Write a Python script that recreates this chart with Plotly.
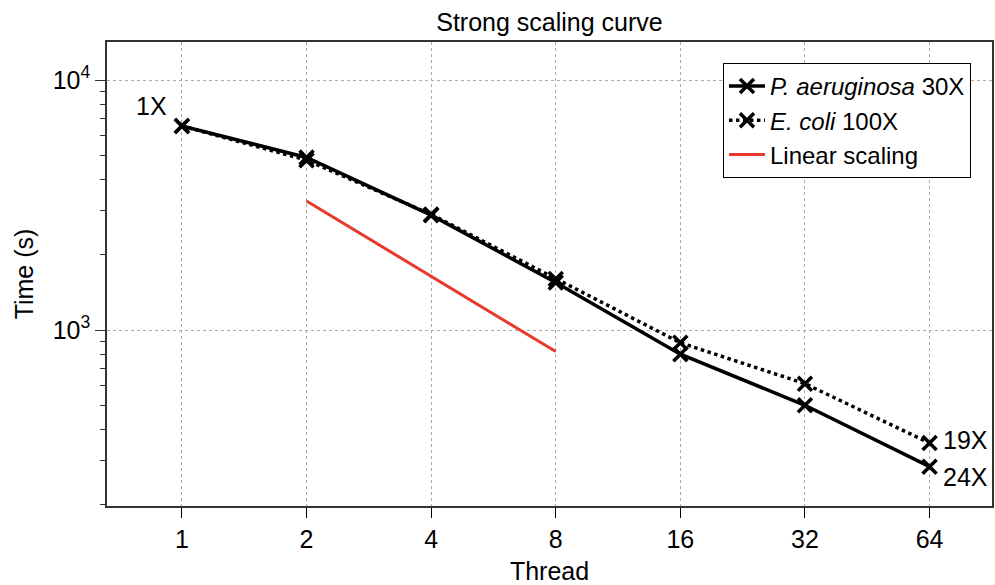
import plotly.graph_objects as go

threads = [1, 2, 4, 8, 16, 32, 64]
pa_time = [6550, 4900, 2880, 1550, 800, 500, 284]
ec_time = [6550, 4780, 2900, 1600, 889, 610, 353]
lin_threads = [2, 8]
lin_time = [3280, 820]
tick_labels = ["1", "2", "4", "8", "16", "32", "64"]

FONT = "Liberation Sans, Arial, Helvetica, sans-serif"
FS = 25

fig = go.Figure()
fig.add_trace(go.Scatter(
    x=threads, y=pa_time, mode="lines+markers",
    name="<i>P. aeruginosa</i> 30X",
    line=dict(color="black", width=3.5),
    marker=dict(symbol="x-thin-open", size=14, line=dict(color="black", width=3.5)),
))
fig.add_trace(go.Scatter(
    x=threads, y=ec_time, mode="lines+markers",
    name="<i>E. coli</i> 100X",
    line=dict(color="black", width=3.5, dash="dot"),
    marker=dict(symbol="x-thin-open", size=14, line=dict(color="black", width=3.5)),
))
fig.add_trace(go.Scatter(
    x=lin_threads, y=lin_time, mode="lines",
    name="Linear scaling",
    line=dict(color="#e8392b", width=3),
))

fig.add_annotation(x=0, y=3.816, xref="x", yref="y", text="1X", showarrow=False,
                   xanchor="right", yanchor="middle", xshift=-13, yshift=20,
                   font=dict(size=FS, color="black", family=FONT))
fig.add_annotation(x=1.806, y=2.548, xref="x", yref="y", text="19X", showarrow=False,
                   xanchor="left", yanchor="middle", xshift=11, yshift=3,
                   font=dict(size=FS, color="black", family=FONT))
fig.add_annotation(x=1.806, y=2.453, xref="x", yref="y", text="24X", showarrow=False,
                   xanchor="left", yanchor="middle", xshift=11, yshift=-10,
                   font=dict(size=FS, color="black", family=FONT))

minor_vals = [200, 300, 400, 500, 600, 700, 800, 900,
              2000, 3000, 4000, 5000, 6000, 7000, 8000, 9000]

fig.update_layout(
    width=995, height=585,
    margin=dict(l=107, r=1, t=42, b=79),
    paper_bgcolor="white", plot_bgcolor="white",
    font=dict(family=FONT, size=FS, color="black"),
    title=dict(text="Strong scaling curve", x=0.5, xanchor="center",
               xref="paper", y=0.962, yanchor="middle",
               font=dict(size=FS, family=FONT, color="black")),
    legend=dict(x=0.696, y=0.955, xanchor="left", yanchor="top",
                bordercolor="black", borderwidth=1, bgcolor="white",
                font=dict(size=24, family=FONT, color="black"),
                tracegroupgap=0, itemwidth=36),
    showlegend=True,
)
fig.update_xaxes(
    type="log", range=[-0.181, 1.957],
    tickvals=threads, ticktext=tick_labels,
    tickfont=dict(size=FS, family=FONT, color="black"),
    ticks="outside", ticklen=10, tickcolor="black", tickwidth=1,
    showline=True, linecolor="#333", linewidth=1.5, mirror=True,
    showgrid=True, gridcolor="#aaa", griddash="dot", gridwidth=1,
    zeroline=False,
    title=dict(text="Thread", standoff=12, font=dict(size=FS, family=FONT, color="black")),
)
fig.update_yaxes(
    type="log", range=[2.296, 4.152],
    tickvals=[1000, 10000], ticktext=["10<sup>3</sup>", "10<sup>4</sup>"],
    tickfont=dict(size=FS, family=FONT, color="black"),
    ticks="outside", ticklen=10, tickcolor="#333", tickwidth=1,
    minor=dict(tickvals=minor_vals, ticks="outside", ticklen=5, tickcolor="#333", showgrid=False),
    showline=True, linecolor="#333", linewidth=1.5, mirror=True,
    showgrid=True, gridcolor="#aaa", griddash="dot", gridwidth=1,
    zeroline=False,
    title=dict(text="Time (s)", standoff=12, font=dict(size=FS, family=FONT, color="black")),
)

fig.write_html("out.html", config={"displayModeBar": False},
               post_script="document.body.style.margin='0';document.body.style.overflow='hidden';")
